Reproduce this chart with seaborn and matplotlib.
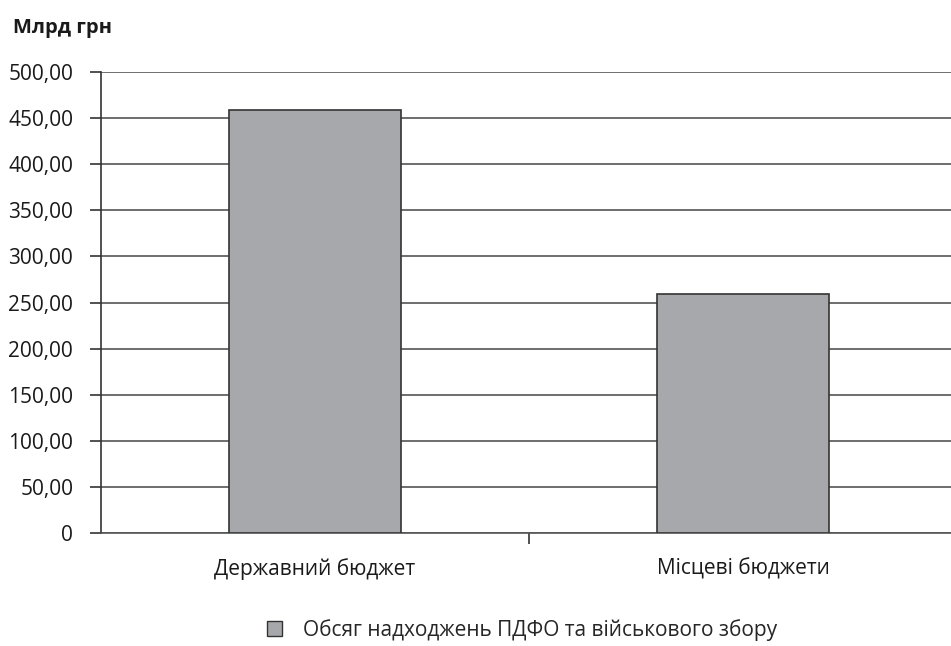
import matplotlib
matplotlib.use("Agg")
import matplotlib.pyplot as plt
import matplotlib.ticker as mticker
from matplotlib.patches import Patch
import seaborn as sns
import pandas as pd

categories = ["Державний бюджет", "Місцеві бюджети"]
values = [458.8, 259.2]
series_name = "Обсяг надходжень ПДФО та військового збору"
unit_label = "Млрд грн"
y_ticks = [0, 50, 100, 150, 200, 250, 300, 350, 400, 450, 500]

sns.set_theme(style="white")
plt.rcParams["font.family"] = ["Open Sans", "DejaVu Sans"]

df = pd.DataFrame({"category": categories, "value": values})

fig = plt.figure(figsize=(9.51, 6.46), dpi=100)
W, H = 951, 646
ax = fig.add_axes([101 / W, 1 - 533 / H, 856 / W, 461 / H])

bar_color = "#a7a8ab"
sns.barplot(data=df, x="category", y="value", color=bar_color, width=0.4,
            edgecolor="#333333", linewidth=1.2, saturation=1, ax=ax, zorder=3)

ax.set_ylim(0, 500)
ax.set_xlim(-0.5, 1.5)
ax.set_yticks(y_ticks)
ax.yaxis.set_major_formatter(mticker.FuncFormatter(
    lambda v, p: "0" if v == 0 else f"{v:.2f}".replace(".", ",")))
ax.grid(axis="y", color="#555555", linewidth=1.2, zorder=0)
ax.set_axisbelow(True)

for side in ["top", "right"]:
    ax.spines[side].set_visible(False)
ax.spines["left"].set_color("#333333")
ax.spines["left"].set_linewidth(1.2)
ax.spines["bottom"].set_color("#555555")
ax.spines["bottom"].set_linewidth(1.2)

ax.tick_params(axis="y", which="major", left=True, length=8, width=1.2,
               color="#333333", labelsize=15, labelcolor="#1a1a1a", pad=12)
ax.set_xticks([0.5], minor=True)
ax.tick_params(axis="x", which="major", bottom=False, labelsize=15,
               labelcolor="#1a1a1a", pad=12)
ax.tick_params(axis="x", which="minor", bottom=True, length=8, width=1.2,
               color="#333333", direction="out")
ax.set_xlabel("")
ax.set_ylabel("")

fig.text(13 / W, 1 - 28 / H, unit_label, fontsize=14.5, fontweight="bold",
         color="#1a1a1a", va="center", ha="left")

handle = Patch(facecolor=bar_color, edgecolor="#333333", linewidth=1.0)
fig.legend([handle], [series_name], loc="center", bbox_to_anchor=(522 / W, 1 - 630 / H),
           frameon=False, fontsize=15, handlelength=0.7, handleheight=0.7,
           handletextpad=1.0)

fig.savefig("out.png", dpi=100)
